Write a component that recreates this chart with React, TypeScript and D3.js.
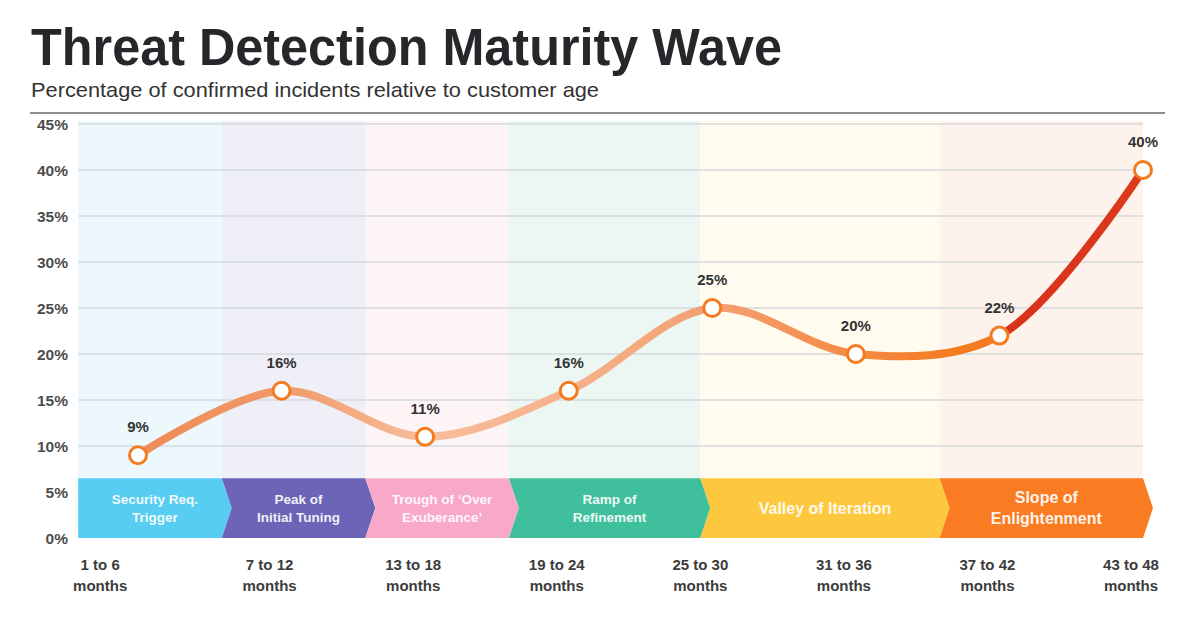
import React from "react";
import * as d3 from "d3";

// Customer-age buckets (months) and share of confirmed incidents
const ageRanges: [number, number][] = [
  [1, 6], [7, 12], [13, 18], [19, 24], [25, 30], [31, 36], [37, 42], [43, 48],
];
const incidentPct = [9, 16, 11, 16, 25, 20, 22, 40];
const yTicks = [0, 5, 10, 15, 20, 25, 30, 35, 40, 45];

// Maturity phases: label lines and span in months
const phaseNames: string[][] = [
  ["Security Req.", "Trigger"],
  ["Peak of", "Initial Tuning"],
  ["Trough of \u2018Over", "Exuberance\u2019"],
  ["Ramp of", "Refinement"],
  ["Valley of Iteration"],
  ["Slope of", "Enlightenment"],
];
const phaseBounds = [1, 7, 13, 19, 27, 37, 45.5];
const phaseColors = ["#57cdf1", "#6b64b7", "#f8a9ca", "#3fbf9b", "#fdc83e", "#f97c22"];
const phaseTints = ["#ecf8fb", "#efeff7", "#fdf4f6", "#ecf7f3", "#fffcef", "#fdf2ec"];
const phaseFont = [13.5, 13.5, 13.5, 13.5, 16, 16];

const FONT = "'Liberation Sans', Arial, Helvetica, sans-serif";

export default function App() {
  const W = 1200;
  const H = 623;

  const mid = ageRanges.map(([a, b]) => (a + b) / 2);
  const x = d3.scaleLinear().domain([mid[0], mid[mid.length - 1]]).range([138, 1143]);
  const y = d3.scaleLinear().domain([0, 45]).range([538, 124]);

  const pts = incidentPct.map((v, i) => [x(mid[i]), y(v)] as [number, number]);
  const line = d3.line().curve(d3.curveCatmullRom.alpha(0.5));
  const path = line(pts) || "";

  const left = x(phaseBounds[0]);
  const right = x(phaseBounds[phaseBounds.length - 1]);
  const bannerTop = y(6.5);
  const bannerBot = y(0);
  const bannerMid = (bannerTop + bannerBot) / 2;
  const notch = 10;

  const n = incidentPct.length - 1;
  const stops: [number, string][] = [
    [0, "#ee8b56"],
    [1 / n, "#f09a69"],
    [2 / n, "#f8bd9b"],
    [3 / n, "#f6b18b"],
    [4 / n, "#f3a072"],
    [5 / n, "#f58a44"],
    [5.7 / n, "#f47b20"],
    [6 / n, "#f47a21"],
    [6.01 / n, "#d8331b"],
    [1, "#dc391c"],
  ];

  return (
    <svg width={W} height={H} style={{ display: "block", position: "absolute", left: 0, top: 0 }}>
      <rect width={W} height={H} fill="#ffffff" />
      <defs>
        <linearGradient id="waveGrad" gradientUnits="userSpaceOnUse" x1={x(mid[0])} x2={x(mid[n])} y1={0} y2={0}>
          {stops.map(([o, c], i) => (
            <stop key={i} offset={o} stopColor={c} />
          ))}
        </linearGradient>
      </defs>

      <text x={31} y={65} fontFamily={FONT} fontWeight="bold" fontSize={51} fill="#26272b"
        textLength={751} lengthAdjust="spacingAndGlyphs">
        Threat Detection Maturity Wave
      </text>
      <text x={31} y={97} fontFamily={FONT} fontSize={21} fill="#333"
        textLength={568} lengthAdjust="spacingAndGlyphs">
        Percentage of confirmed incidents relative to customer age
      </text>
      <line x1={30} x2={1165} y1={113} y2={113} stroke="#8e8e8e" strokeWidth={2} />

      {/* phase background bands */}
      {phaseNames.map((_, i) => (
        <rect key={i} x={x(phaseBounds[i])} y={y(45) - 3}
          width={x(phaseBounds[i + 1]) - x(phaseBounds[i])}
          height={bannerTop - y(45) + 3} fill={phaseTints[i]} />
      ))}

      {/* gridlines */}
      {yTicks.filter((t) => t > 0).map((t) => (
        <line key={t} x1={left} x2={right} y1={y(t)} y2={y(t)} stroke="#d6dade" strokeWidth={1.5} />
      ))}

      {/* y-axis labels */}
      {yTicks.map((t) => (
        <text key={t} x={68} y={y(t) + 5.5} textAnchor="end" fontFamily={FONT} fontWeight="bold"
          fontSize={15.5} fill="#4d4d4d">
          {t}%
        </text>
      ))}

      {/* phase chevrons */}
      {phaseNames.map((lines, i) => {
        const x0 = x(phaseBounds[i]);
        const x1 = x(phaseBounds[i + 1]);
        const d =
          i === 0
            ? `M${x0},${bannerTop} L${x1},${bannerTop} L${x1 + notch},${bannerMid} L${x1},${bannerBot} L${x0},${bannerBot} Z`
            : `M${x0},${bannerTop} L${x1},${bannerTop} L${x1 + notch},${bannerMid} L${x1},${bannerBot} L${x0},${bannerBot} L${x0 + notch},${bannerMid} Z`;
        const cx = (x0 + x1) / 2 + notch / 2;
        const fs = phaseFont[i];
        const lh = fs * 1.3;
        const startY = bannerMid + fs * 0.36 - ((lines.length - 1) * lh) / 2;
        return (
          <g key={i}>
            <path d={d} fill={phaseColors[i]} />
            {lines.map((s, j) => (
              <text key={j} x={cx} y={startY + j * lh} textAnchor="middle" fontFamily={FONT}
                fontWeight="bold" fontSize={fs} fill="#ffffff" fillOpacity={0.93}>
                {s}
              </text>
            ))}
          </g>
        );
      })}

      {/* wave */}
      <path d={path} fill="none" stroke="url(#waveGrad)" strokeWidth={8} strokeLinecap="round" />

      {pts.map(([px, py], i) => (
        <g key={i}>
          <circle cx={px} cy={py} r={8.5} fill="#ffffff" stroke="#f47b20" strokeWidth={3} />
          <text x={px} y={py - 23} textAnchor="middle" fontFamily={FONT} fontWeight="bold"
            fontSize={15} fill="#333">
            {incidentPct[i]}%
          </text>
        </g>
      ))}

      {/* x-axis labels */}
      {ageRanges.map(([a, b], i) => {
        const lx = i === 0 ? x(a) + 22 : x(a + 2);
        return (
          <g key={i}>
            <text x={lx} y={570} textAnchor="middle" fontFamily={FONT} fontWeight="bold" fontSize={15}
              fill="#3c3c3c">
              {a} to {b}
            </text>
            <text x={lx} y={591} textAnchor="middle" fontFamily={FONT} fontWeight="bold" fontSize={15}
              fill="#3c3c3c">
              months
            </text>
          </g>
        );
      })}
    </svg>
  );
}
